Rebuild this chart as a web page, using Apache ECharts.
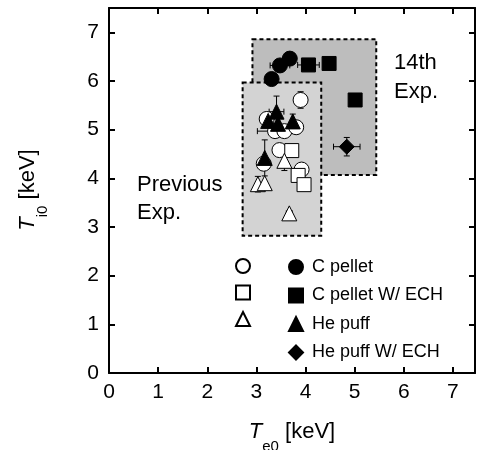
<!DOCTYPE html>
<html>
<head>
<meta charset="utf-8">
<script src="https://cdn.jsdelivr.net/npm/echarts@6/dist/echarts.min.js"></script>
<style>
  html, body { margin: 0; padding: 0; background: #fff; }
  #chart { width: 478px; height: 450px; }
</style>
</head>
<body>
<div id="chart"></div>
<script>
  // 14th experiment (filled symbols)
  const cPellet14 = [[3.31, 6.04], [3.48, 6.32], [3.68, 6.46]]
  const cPelletEch14 = [[4.06, 6.33], [4.48, 6.36], [5.01, 5.61]]
  const hePuff14 = [[3.41, 5.37], [3.24, 5.18], [3.44, 5.12], [3.74, 5.17], [3.17, 4.42]]
  const hePuffEch14 = [[4.84, 4.65]]
  // previous experiments (open symbols)
  const cPelletPrev = [[3.90, 5.61], [3.21, 5.22], [3.38, 4.97], [3.57, 4.97], [3.81, 5.05], [3.47, 4.58], [3.15, 4.30], [3.92, 4.18]]
  const cPelletEchPrev = [[3.72, 4.57], [3.85, 4.06], [3.97, 3.87]]
  const hePuffPrev = [[3.57, 4.36], [3.03, 3.88], [3.17, 3.90], [3.67, 3.28]]
  // error bars: x, y, dx, dy
  const errorBars = [
    [3.48, 6.32, 0.2, 0], [4.06, 6.33, 0.22, 0], [4.84, 4.65, 0.27, 0.19],
    [3.90, 5.61, 0, 0.17], [3.38, 4.97, 0.36, 0], [3.41, 5.37, 0.15, 0.32],
    [3.17, 4.42, 0, 0.37], [3.74, 5.17, 0, 0.15], [3.57, 4.36, 0, 0.2],
    [3.03, 3.88, 0, 0.16], [3.67, 3.28, 0.06, 0], [3.24, 5.18, 0.1, 0]
  ]
  // shaded regions: x0, y0, x1, y1
  const box14th = [2.92, 4.07, 5.44, 6.86]
  const boxPrev = [2.72, 2.82, 4.32, 5.97]
  const boxFills = ['#bdbdbd', '#d3d3d3']

  const font = "'Liberation Sans', Arial, sans-serif"

  const chart = echarts.init(document.getElementById('chart'))

  function axisBase(pos, showLabel) {
    return {
      type: 'value',
      position: pos,
      min: 0,
      interval: 1,
      axisLine: {show: true, onZero: false, lineStyle: {color: '#000', width: 2}},
      axisTick: {show: true, inside: true, length: 6, lineStyle: {color: '#000', width: 2}},
      axisLabel: {show: showLabel, showMaxLabel: false, color: '#000', fontSize: 21, fontFamily: font},
      splitLine: {show: false}
    }
  }

  function scatter(name, data, symbol, size, fill, z) {
    return {
      name: name,
      type: 'scatter',
      data: data,
      symbol: symbol,
      symbolSize: size,
      z: z,
      itemStyle: {color: fill, borderColor: '#000', borderWidth: 1, opacity: 1}
    }
  }

  const xa = axisBase('bottom', true)
  xa.max = 7.45
  xa.axisLabel.margin = 9
  const xt = axisBase('top', false)
  xt.max = 7.45
  const ya = axisBase('left', true)
  ya.max = 7.5
  ya.axisLabel.margin = 10
  const yr = axisBase('right', false)
  yr.max = 7.5

  const titleRich = {
    i: {fontSize: 22, fontStyle: 'italic', fontFamily: font, fill: '#000', lineHeight: 24, verticalAlign: 'top'},
    s: {fontSize: 15, fontFamily: font, fill: '#000', lineHeight: 15, padding: [18, 0, 0, 0], verticalAlign: 'top'},
    n: {fontSize: 22, fontFamily: font, fill: '#000', lineHeight: 24, verticalAlign: 'top'}
  }

  chart.setOption({
    animation: false,
    backgroundColor: '#fff',
    grid: {left: 109, right: 3, top: 8, bottom: 77},
    xAxis: [xa, xt],
    yAxis: [ya, yr],
    legend: [{
      orient: 'vertical',
      left: 283, top: 253,
      itemWidth: 14, itemHeight: 14, itemGap: 10.5,
      textStyle: {color: '#000', fontSize: 18, fontFamily: font, lineHeight: 14, padding: [0, 0, 0, 4]},
      data: ['C pellet', 'C pellet W/ ECH', 'He puff', 'He puff W/ ECH']
    }, {
      orient: 'vertical',
      left: 230, top: 253,
      itemWidth: 14, itemHeight: 14, itemGap: 10.5,
      formatter: () => '',
      textStyle: {fontSize: 18, lineHeight: 14},
      data: ['prev C pellet', 'prev C pellet W/ ECH', 'prev He puff']
    }],
    graphic: [
      {type: 'text', left: 394, top: 48,
        style: {text: '14th\nExp.', fontSize: 22, lineHeight: 29, fontFamily: font, fill: '#000'}},
      {type: 'text', left: 137, top: 171,
        style: {text: 'Previous\nExp.', fontSize: 22, lineHeight: 28, fontFamily: font, fill: '#000'}},
      {type: 'text', x: 292, y: 433,
        style: {text: '{i|T}{s|e0}{n| [keV]}', align: 'center', verticalAlign: 'middle', fontFamily: font, rich: titleRich}},
      {type: 'text', x: 29, y: 190, rotation: Math.PI / 2,
        style: {text: '{i|T}{s|i0}{n| [keV]}', align: 'center', verticalAlign: 'middle', fontFamily: font, rich: titleRich}}
    ],
    series: [
      {
        type: 'custom',
        z: 1,
        silent: true,
        data: [box14th, boxPrev],
        encode: {x: [0, 2], y: [1, 3]},
        renderItem: function (params, api) {
          const p0 = api.coord([api.value(0), api.value(3)])
          const p1 = api.coord([api.value(2), api.value(1)])
          return {
            type: 'rect',
            shape: {x: p0[0], y: p0[1], width: p1[0] - p0[0], height: p1[1] - p0[1]},
            style: {fill: boxFills[params.dataIndex], stroke: '#000', lineWidth: 2, lineDash: [4, 3]}
          }
        }
      },
      {
        type: 'custom',
        z: 2,
        silent: true,
        data: errorBars,
        encode: {x: 0, y: 1},
        renderItem: function (params, api) {
          const x = api.value(0), y = api.value(1), dx = api.value(2), dy = api.value(3)
          const children = []
          const st = {stroke: '#000', lineWidth: 1}
          const cap = 3
          if (dx > 0) {
            const a = api.coord([x - dx, y]), b = api.coord([x + dx, y])
            children.push({type: 'line', shape: {x1: a[0], y1: a[1], x2: b[0], y2: b[1]}, style: st})
            children.push({type: 'line', shape: {x1: a[0], y1: a[1] - cap, x2: a[0], y2: a[1] + cap}, style: st})
            children.push({type: 'line', shape: {x1: b[0], y1: b[1] - cap, x2: b[0], y2: b[1] + cap}, style: st})
          }
          if (dy > 0) {
            const a = api.coord([x, y - dy]), b = api.coord([x, y + dy])
            children.push({type: 'line', shape: {x1: a[0], y1: a[1], x2: b[0], y2: b[1]}, style: st})
            children.push({type: 'line', shape: {x1: a[0] - cap, y1: a[1], x2: a[0] + cap, y2: a[1]}, style: st})
            children.push({type: 'line', shape: {x1: b[0] - cap, y1: b[1], x2: b[0] + cap, y2: b[1]}, style: st})
          }
          return {type: 'group', children: children}
        }
      },
      scatter('prev C pellet', cPelletPrev, 'circle', 15, '#fff', 3),
      scatter('prev C pellet W/ ECH', cPelletEchPrev, 'rect', 14, '#fff', 4),
      scatter('prev He puff', hePuffPrev, 'triangle', 15, '#fff', 5),
      scatter('C pellet', cPellet14, 'circle', 15, '#000', 6),
      scatter('C pellet W/ ECH', cPelletEch14, 'rect', 14, '#000', 7),
      scatter('He puff', hePuff14, 'triangle', 15, '#000', 8),
      scatter('He puff W/ ECH', hePuffEch14, 'diamond', 15, '#000', 9)
    ]
  })
</script>
</body>
</html>
